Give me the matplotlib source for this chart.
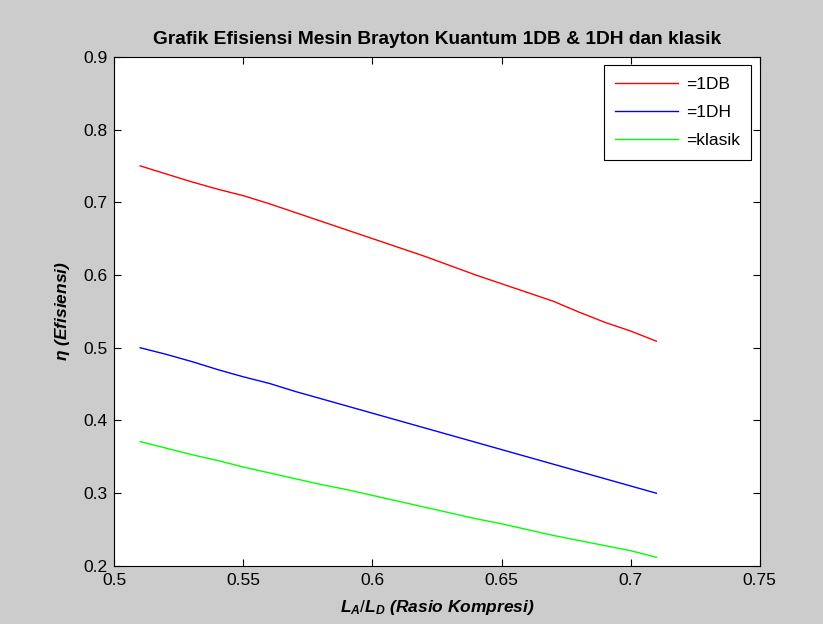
import matplotlib
matplotlib.use('Agg')
import matplotlib.pyplot as plt

# rasio kompresi L_A/L_D
rasio = [0.51, 0.52, 0.53, 0.54, 0.55, 0.56, 0.57, 0.58, 0.59, 0.60, 0.61,
         0.62, 0.63, 0.64, 0.65, 0.66, 0.67, 0.68, 0.69, 0.70, 0.71]

# efisiensi tiap model
eff_1DB = [0.750, 0.739, 0.728, 0.718, 0.709, 0.698, 0.686, 0.674, 0.662, 0.650, 0.638,
           0.626, 0.613, 0.600, 0.588, 0.576, 0.564, 0.549, 0.535, 0.523, 0.509]
eff_1DH = [0.500, 0.491, 0.481, 0.470, 0.460, 0.451, 0.440, 0.430, 0.420, 0.410, 0.400,
           0.390, 0.380, 0.370, 0.360, 0.350, 0.340, 0.330, 0.320, 0.310, 0.300]
eff_klasik = [0.371, 0.362, 0.353, 0.345, 0.336, 0.328, 0.320, 0.312, 0.305, 0.297, 0.289,
              0.281, 0.273, 0.265, 0.258, 0.250, 0.242, 0.235, 0.228, 0.221, 0.212]

label_seri = ['=1DB', '=1DH', '=klasik']
xticks = [0.5, 0.55, 0.6, 0.65, 0.7, 0.75]
yticks = [0.2, 0.3, 0.4, 0.5, 0.6, 0.7, 0.8, 0.9]

plt.rcParams['font.family'] = ['Liberation Sans', 'DejaVu Sans']
plt.rcParams['mathtext.fontset'] = 'custom'
plt.rcParams['mathtext.rm'] = 'Liberation Sans'
plt.rcParams['mathtext.it'] = 'Liberation Sans:italic:bold'
plt.rcParams['mathtext.bf'] = 'Liberation Sans:bold'

fig = plt.figure(figsize=(8.23, 6.24), dpi=100, facecolor='#cccccc')
ax = fig.add_axes([0.139, 0.093, 0.784, 0.816])

ax.plot(rasio, eff_1DB, color='#ff0000', lw=1, label=label_seri[0])
ax.plot(rasio, eff_1DH, color='#0000ff', lw=1, label=label_seri[1])
ax.plot(rasio, eff_klasik, color='#00ff00', lw=1, label=label_seri[2])

ax.set_xlim(0.5, 0.75)
ax.set_ylim(0.2, 0.9)
ax.set_xticks(xticks)
ax.set_xticklabels([f'{v:g}' for v in xticks])
ax.set_yticks(yticks)
ax.set_yticklabels([f'{v:g}' for v in yticks])
ax.tick_params(direction='in', top=True, right=True, length=5, width=0.8,
               labelsize=12.5, pad=5)
for s in ax.spines.values():
    s.set_linewidth(0.8)

ax.set_title('Grafik Efisiensi Mesin Brayton Kuantum 1DB & 1DH dan klasik',
             fontsize=13.8, fontweight='bold', pad=9)
ax.set_xlabel(r'$L_A/L_D$ (Rasio Kompresi)', fontsize=12.5,
              fontweight='bold', style='italic', labelpad=7)
ax.set_ylabel(r'$\eta$ (Efisiensi)', fontsize=12.5,
              fontweight='bold', style='italic', labelpad=8)

leg = ax.legend(loc='upper right', fontsize=12.5, fancybox=False,
                framealpha=1, edgecolor='black', handlelength=3.6,
                handletextpad=0.45, borderaxespad=0.5, borderpad=0.65,
                labelspacing=0.75)
leg.get_frame().set_linewidth(0.8)

fig.savefig('out.png', dpi=100, facecolor=fig.get_facecolor())
